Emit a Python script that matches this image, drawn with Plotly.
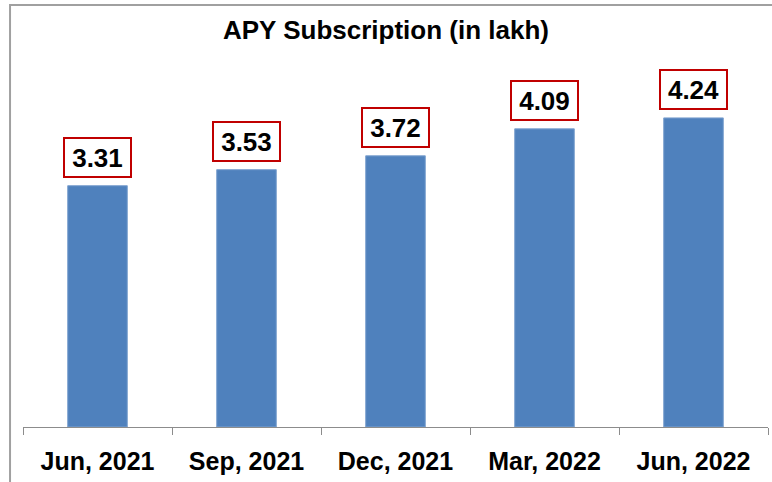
import plotly.graph_objects as go

# APY subscriptions by quarter (in lakh)
quarters = ["Jun, 2021", "Sep, 2021", "Dec, 2021", "Mar, 2022", "Jun, 2022"]
subscriptions = [3.31, 3.53, 3.72, 4.09, 4.24]

BAR_COLOR = "#4F81BD"
LABEL_BORDER = "#C00000"
AXIS_GRAY = "#8C8C8C"
FONT = "Liberation Sans"

fig = go.Figure(
    go.Bar(
        x=quarters,
        y=subscriptions,
        marker=dict(color=BAR_COLOR, line=dict(color="#7FA3D0", width=1)),
        width=0.4,
        hoverinfo="x+y",
    )
)

# value labels in red-bordered boxes above each bar
for q, v in zip(quarters, subscriptions):
    fig.add_annotation(
        x=q,
        y=v,
        text=f"<b>{v:.2f}</b>",
        showarrow=False,
        yanchor="bottom",
        yshift=8,
        width=65,
        height=37,
        bgcolor="white",
        bordercolor=LABEL_BORDER,
        borderwidth=2,
        borderpad=0,
        font=dict(family=FONT, size=26, color="black"),
    )

# chart frame
fig.add_shape(
    type="rect",
    xref="paper",
    yref="paper",
    x0=-0.0174,
    x1=1.2,
    y0=-0.4,
    y1=1.1047,
    line=dict(color="#A0A0A0", width=2),
    fillcolor="rgba(0,0,0,0)",
    layer="below",
)

fig.update_layout(
    width=772,
    height=482,
    margin=dict(l=23, r=4, t=45, b=55),
    paper_bgcolor="white",
    plot_bgcolor="white",
    showlegend=False,
    title=dict(
        text="<b>APY Subscription (in lakh)</b>",
        x=0.5,
        xanchor="center",
        y=1 - 30 / 482,
        yanchor="middle",
        font=dict(family=FONT, size=26, color="black"),
    ),
    xaxis=dict(
        type="category",
        range=[-0.5, 4.5],
        showline=True,
        linecolor=AXIS_GRAY,
        linewidth=1,
        ticks="outside",
        tickson="boundaries",
        ticklen=7,
        tickcolor=AXIS_GRAY,
        tickfont=dict(family=FONT, size=25, color="black", weight="bold"),
        ticklabelstandoff=12,
        showgrid=False,
    ),
    yaxis=dict(
        range=[0, 5.24],
        visible=False,
        showgrid=False,
        zeroline=False,
    ),
)

fig.write_html("out.html")
